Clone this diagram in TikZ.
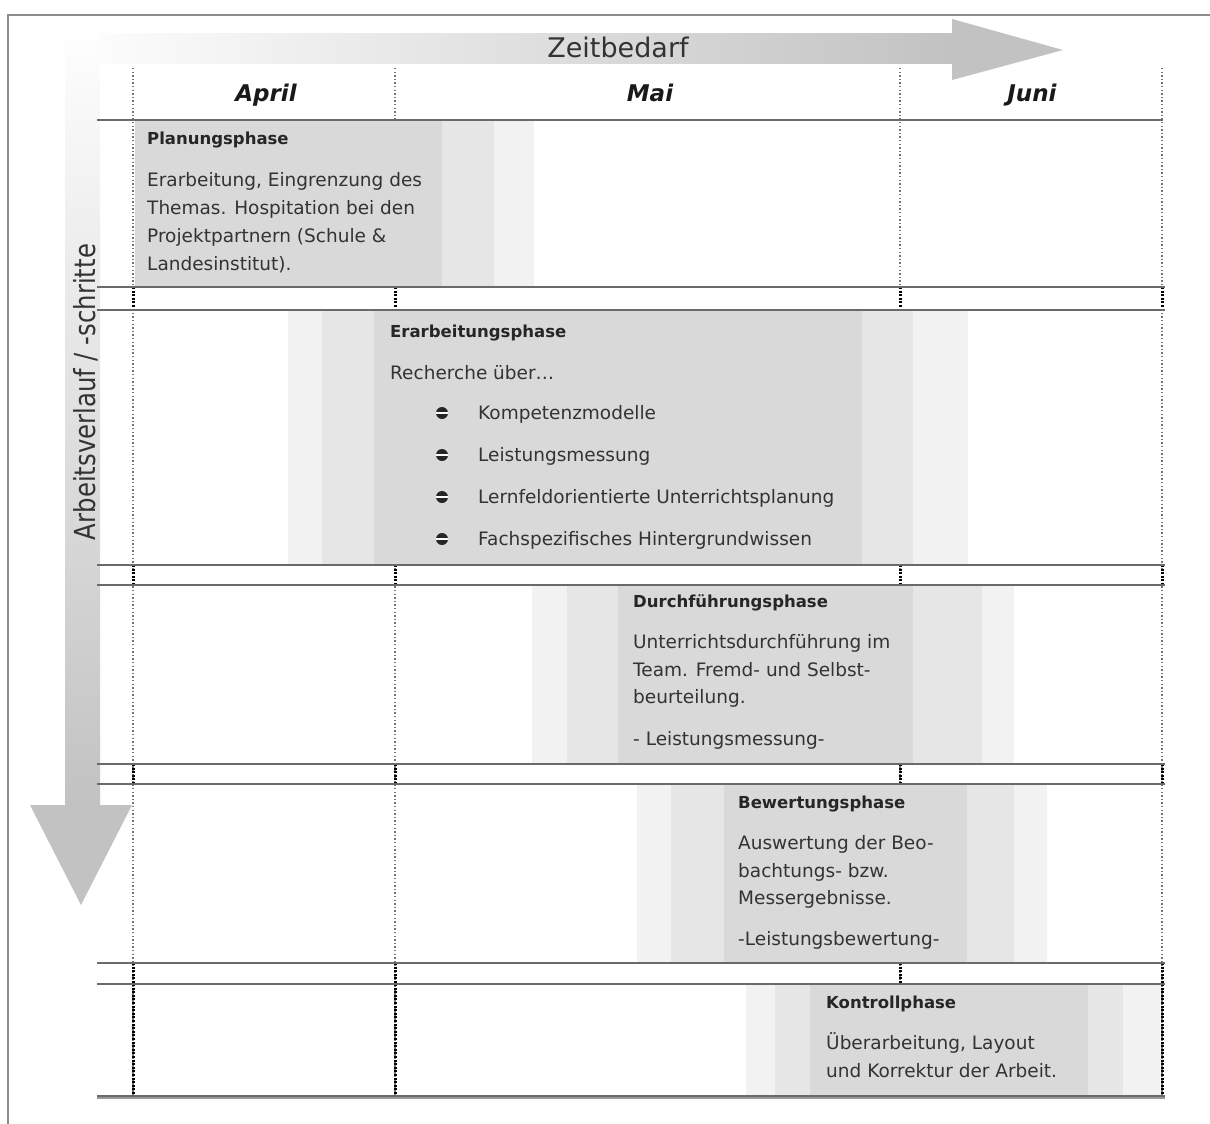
\documentclass[tikz,border=0pt]{standalone}
\usepackage{fontspec}
\setmainfont{DejaVu Sans}
\definecolor{boxA}{HTML}{D9D9D9}
\definecolor{boxB}{HTML}{E6E6E6}
\definecolor{boxC}{HTML}{F2F2F2}
\definecolor{arrowc}{HTML}{C2C2C2}
\definecolor{linec}{HTML}{6A6A6A}
\definecolor{txtc}{HTML}{333333}
\definecolor{framec}{HTML}{8C8C8C}
\begin{document}
\begin{tikzpicture}[x=1pt,y=-1pt,
  headtxt/.style={anchor=base west, inner sep=0pt, text=black!85, font=\bfseries\fontsize{16.5}{20}\selectfont},
  bodytxt/.style={anchor=base west, inner sep=0pt, text=txtc, font=\fontsize{18.5}{28}\selectfont},
  monthtxt/.style={anchor=base, inner sep=0pt, text=black!90, font=\bfseries\itshape\fontsize{23}{26}\selectfont},
  lightdot/.style={draw=black!55, line width=1.2pt, dash pattern=on 1.4pt off 2.2pt},
  heavydot/.style={draw=black, line width=3pt, dash pattern=on 2pt off 1.6pt},
  hline/.style={draw=linec, line width=1.8pt},
  bulletc/.style={circle, fill=black!85, minimum size=12pt, inner sep=0pt,
    path picture={\draw[white, line width=1.8pt] (path picture bounding box.west) -- (path picture bounding box.east);}}
]
\useasboundingbox (0,0) rectangle (1210,1124);
\fill[white] (0,0) rectangle (1210,1124);

% frame
\draw[framec, line width=1.6pt] (8,1124) -- (8,15) -- (1210,15);

% arrows
\shade[left color=white, right color=arrowc] (60,34) rectangle (953,64);
\fill[arrowc] (952,19) -- (952,80) -- (1063,50) -- cycle;
\shade[top color=white, bottom color=arrowc] (65,20) rectangle (100,806);
\fill[arrowc] (30,805) -- (132,805) -- (81,905) -- cycle;

\node[anchor=base, inner sep=0pt, text=txtc, font=\fontsize{27}{30}\selectfont] (zeit) at (618,58) {Zeitbedarf};
\node[rotate=90, inner sep=0pt, text=txtc, font=\fontsize{29}{30}\selectfont] (vlabel) at (86,392) {\scalebox{0.84}[1]{Arbeitsverlauf / -schritte}};

% months
\node[monthtxt] (apr) at (266,101) {April};
\node[monthtxt] (mai) at (650,101) {Mai};
\node[monthtxt] (jun) at (1032,101) {Juni};

% light dotted verticals
\foreach \x in {133,395,900,1162} \draw[lightdot] (\x,68) -- (\x,1097);

% band 1
\fill[boxC] (135,121) rectangle (534,286);
\fill[boxB] (135,121) rectangle (494,286);
\fill[boxA] (135,121) rectangle (442,286);
% band 2
\fill[boxC] (288,311) rectangle (968,564);
\fill[boxB] (322,311) rectangle (913,564);
\fill[boxA] (374,311) rectangle (862,564);
% band 3
\fill[boxC] (532,586) rectangle (1014,763);
\fill[boxB] (567,586) rectangle (982,763);
\fill[boxA] (618,586) rectangle (913,763);
% band 4
\fill[boxC] (637,785) rectangle (1047,962);
\fill[boxB] (671,785) rectangle (1014,962);
\fill[boxA] (724,785) rectangle (967,962);
% band 5
\fill[boxC] (746,985) rectangle (1160,1096);
\fill[boxB] (775,985) rectangle (1123,1096);
\fill[boxA] (810,985) rectangle (1088,1096);

% heavy dotted segments
\foreach \ya/\yb in {287/310,565/585,764/784,963/984}
  \foreach \x in {133,395,900,1162} \draw[heavydot] (\x,\ya) -- (\x,\yb);
\foreach \x in {133,395,1162} \draw[heavydot] (\x,984) -- (\x,1097);

% horizontal lines
\draw[hline] (97,120) -- (1163,120);
\foreach \y in {287,310,565,585,764,784,963,984} \draw[hline] (97,\y) -- (1165,\y);
\draw[draw=black!40, line width=3.5pt] (97,1097) -- (1165,1097);
\draw[hline] (97,1096) -- (1165,1096);

% band 1 text
\node[headtxt] (p1h) at (147,144) {Planungsphase};
\node[bodytxt] (p1a) at (147,186) {Erarbeitung, Eingrenzung des};
\node[bodytxt] (p1b) at (147,214) {Themas. Hospitation bei den};
\node[bodytxt] (p1c) at (147,242) {Projektpartnern (Schule \&};
\node[bodytxt] (p1d) at (147,270) {Landesinstitut).};

% band 2 text
\node[headtxt] (p2h) at (390,337) {Erarbeitungsphase};
\node[bodytxt] (p2a) at (390,379) {Recherche über\dots};
\node[bulletc] (b1) at (442,413) {};
\node[bulletc] (b2) at (442,455) {};
\node[bulletc] (b3) at (442,497) {};
\node[bulletc] (b4) at (442,539) {};
\node[bodytxt] (p2b) at (478,419) {Kompetenzmodelle};
\node[bodytxt] (p2c) at (478,461) {Leistungsmessung};
\node[bodytxt] (p2d) at (478,503) {Lernfeldorientierte Unterrichtsplanung};
\node[bodytxt] (p2e) at (478,545) {Fachspezifisches Hintergrundwissen};

% band 3 text
\node[headtxt] (p3h) at (633,607) {Durchführungsphase};
\node[bodytxt] (p3a) at (633,648) {Unterrichtsdurchführung im};
\node[bodytxt] (p3b) at (633,676) {Team. Fremd- und Selbst-};
\node[bodytxt] (p3c) at (633,703) {beurteilung.};
\node[bodytxt] (p3d) at (633,745) {- Leistungsmessung-};

% band 4 text
\node[headtxt] (p4h) at (738,808) {Bewertungsphase};
\node[bodytxt] (p4a) at (738,849) {Auswertung der Beo-};
\node[bodytxt] (p4b) at (738,877) {bachtungs- bzw.};
\node[bodytxt] (p4c) at (738,904) {Messergebnisse.};
\node[bodytxt] (p4d) at (738,945) {-Leistungsbewertung-};

% band 5 text
\node[headtxt] (p5h) at (826,1008) {Kontrollphase};
\node[bodytxt] (p5a) at (826,1049) {Überarbeitung, Layout};
\node[bodytxt] (p5b) at (826,1077) {und Korrektur der Arbeit.};
\end{tikzpicture}
\end{document}
